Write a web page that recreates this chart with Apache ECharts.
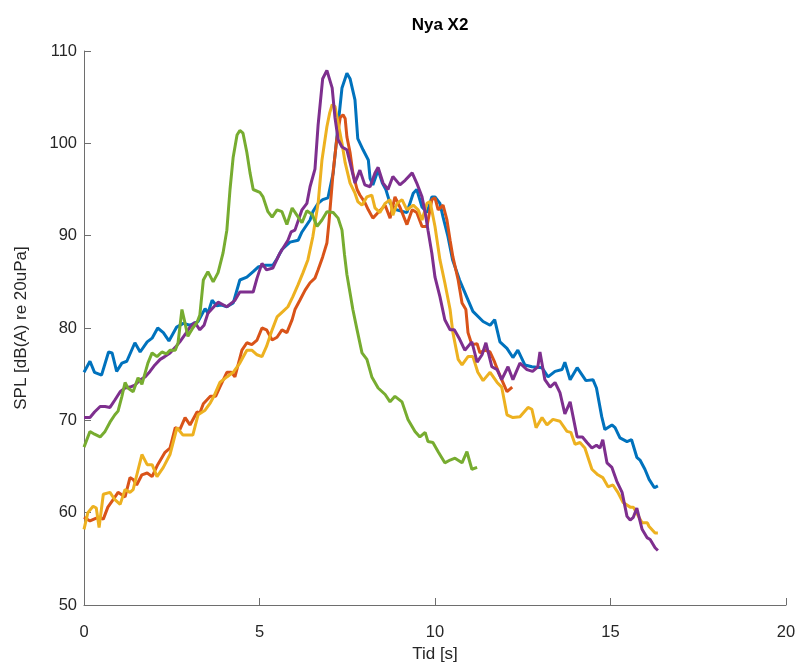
<!DOCTYPE html>
<html>
<head>
<meta charset="utf-8">
<script src="https://cdn.jsdelivr.net/npm/echarts@6/dist/echarts.min.js"></script>
<style>html,body{margin:0;padding:0;background:#fff}#c{width:800px;height:664px}</style>
</head>
<body>
<div id="c"></div>
<script>
const titleText = 'Nya X2';
const xLabel = 'Tid [s]';
const yLabel = 'SPL [dB(A) re 20uPa]';
const xTicks = [0, 5, 10, 15, 20];
const yTicks = [50, 60, 70, 80, 90, 100, 110];

const blue = [[0,75.2],[0.17,76.4],[0.3,75.2],[0.5,74.9],[0.7,77.4],[0.8,77.3],[0.93,75.3],[1.08,76.2],[1.22,76.4],[1.45,78.4],[1.6,77.4],[1.8,78.5],[1.94,78.9],[2.1,80],[2.26,79.5],[2.42,78.6],[2.64,80.1],[2.83,80.5],[3.02,80.3],[3.25,80.7],[3.45,82.1],[3.53,81.6],[3.65,83],[3.78,82.4],[3.9,82.5],[4.07,82.3],[4.25,82.7],[4.44,85.2],[4.64,85.5],[4.82,86.1],[4.96,86.6],[5.16,86.8],[5.38,86.8],[5.5,87.5],[5.64,88.5],[5.87,89.3],[6.1,89.5],[6.21,90.4],[6.44,91.7],[6.52,92.6],[6.67,93.5],[6.8,93.9],[6.95,94.1],[7.1,96.8],[7.24,102],[7.35,106],[7.49,107.6],[7.58,107],[7.72,104.7],[7.8,100.5],[7.95,99.3],[8.1,98.2],[8.15,96.2],[8.23,95.5],[8.38,97.1],[8.5,95.7],[8.6,95],[8.72,93.5],[8.9,92.8],[9.2,92.5],[9.38,94.6],[9.48,95],[9.63,93.1],[9.77,92.5],[9.91,94.2],[10.0,94.2],[10.14,93.5],[10.23,92],[10.37,89.9],[10.5,87.4],[10.7,85.2],[10.9,83.4],[11.08,81.8],[11.37,80.7],[11.57,80.3],[11.7,80.9],[11.85,78.5],[12.05,77.8],[12.22,76.8],[12.36,77.6],[12.56,76],[12.76,75.8],[13.05,75.7],[13.22,74.7],[13.42,75.3],[13.62,75.5],[13.7,76.3],[13.85,74.4],[14.05,75.7],[14.3,74.3],[14.5,74.4],[14.6,73.5],[14.75,70.4],[14.84,69],[15.04,69.5],[15.13,69.2],[15.27,68.1],[15.47,67.7],[15.6,67.9],[15.75,66],[15.84,65.7],[15.98,64.7],[16.1,63.6],[16.25,62.7],[16.35,62.9]];

const red = [[0,59.5],[0.17,59.1],[0.4,59.5],[0.55,59.3],[0.68,60.6],[0.83,61.4],[0.97,62.2],[1.17,61.7],[1.31,63.8],[1.4,63.6],[1.5,63],[1.65,64.1],[1.8,64.3],[1.94,63.9],[2.1,65.2],[2.3,66.5],[2.45,67],[2.6,69.2],[2.73,69],[2.88,70.3],[3.02,69.5],[3.22,70.9],[3.3,70.8],[3.4,71.8],[3.6,72.6],[3.75,72.6],[3.87,73.6],[4.07,75.2],[4.2,75.2],[4.3,74.7],[4.5,77.6],[4.64,78.4],[4.78,78.2],[4.93,78.7],[5.07,80],[5.2,79.8],[5.36,78.7],[5.5,79],[5.64,79.8],[5.78,79.5],[5.93,80.9],[6.01,82],[6.15,83],[6.3,84.1],[6.44,84.9],[6.58,85.4],[6.67,86.3],[6.8,87.7],[6.92,89.2],[6.98,91.5],[7.1,97],[7.2,100.4],[7.3,102.8],[7.38,103.1],[7.44,102.7],[7.49,100.7],[7.58,99],[7.66,96.8],[7.78,95],[7.86,94.4],[8.0,93.6],[8.1,92.8],[8.23,91.9],[8.38,92.5],[8.58,93.3],[8.72,91.9],[8.86,94.2],[9.0,93.1],[9.2,91.2],[9.35,92.8],[9.48,92.5],[9.63,91],[9.77,91],[9.91,93.9],[10.0,94.1],[10.09,92.8],[10.23,93.3],[10.34,91.7],[10.43,89.5],[10.51,87.7],[10.66,85.2],[10.77,82.7],[10.88,82],[10.94,79.5],[11.05,78.2],[11.2,78.3],[11.28,77.3],[11.42,77.6],[11.57,77.4],[11.7,76.3],[11.8,75.3],[11.9,74.4],[12.05,73.1],[12.2,73.6]];

const yellow = [[0,58.2],[0.11,60],[0.26,60.7],[0.35,60.5],[0.43,58.4],[0.55,62],[0.74,62.2],[0.88,61.4],[1.03,60.9],[1.17,62.5],[1.31,62.2],[1.4,62.5],[1.65,66.3],[1.8,65.2],[1.94,65.2],[2.08,63.9],[2.26,64.9],[2.45,66.3],[2.65,69.2],[2.82,68.4],[3.1,68.4],[3.25,70.6],[3.45,71.1],[3.6,71.9],[3.7,72.6],[3.87,74.1],[4.07,74.7],[4.25,75.2],[4.44,76.2],[4.64,77.6],[4.78,77.6],[4.93,77.1],[5.07,76.9],[5.2,78],[5.36,79.8],[5.5,81.2],[5.67,81.8],[5.81,82.3],[5.95,83.4],[6.1,84.7],[6.24,86],[6.38,87.4],[6.52,89.9],[6.67,93.5],[6.78,98.2],[6.92,101.8],[7.0,103.3],[7.07,104.2],[7.15,104],[7.24,102.2],[7.35,100],[7.44,97.9],[7.58,95.7],[7.72,94.6],[7.8,93.7],[7.92,93.3],[8.06,94.2],[8.2,94.4],[8.29,93],[8.43,92.5],[8.58,93.5],[8.72,93.9],[8.8,92.2],[8.92,93.5],[9.06,93.9],[9.2,92.8],[9.38,93.3],[9.52,92.8],[9.63,91.7],[9.77,93.5],[9.86,93.7],[10.0,91],[10.14,87.4],[10.28,84.9],[10.43,82],[10.51,79.5],[10.66,76.6],[10.77,76],[10.94,76.9],[11.08,76.9],[11.22,75.2],[11.37,74.3],[11.57,75.2],[11.77,74.1],[11.9,73.6],[12.05,70.6],[12.22,70.3],[12.42,70.4],[12.65,71.4],[12.76,71.2],[12.88,69.2],[13.05,70.3],[13.19,69.5],[13.36,70.1],[13.56,69.9],[13.76,68.8],[13.87,68.7],[13.99,67.4],[14.13,67.6],[14.27,67],[14.47,64.7],[14.64,64.1],[14.78,63.8],[14.93,62.8],[15.07,63],[15.21,62.2],[15.36,61.1],[15.56,60.6],[15.65,60.6],[15.9,58.9],[16.05,58.9],[16.1,58.5],[16.27,57.8],[16.35,57.8]];

const purple = [[0,70.3],[0.17,70.3],[0.3,70.9],[0.46,71.5],[0.6,71.5],[0.74,71.4],[0.88,72.2],[1.03,73.1],[1.17,73.5],[1.31,73.6],[1.45,73.8],[1.6,74.4],[1.74,74.7],[1.88,75.3],[2.02,76],[2.17,76.6],[2.3,76.9],[2.45,77.3],[2.6,77.9],[2.73,78.5],[2.88,79.3],[3.02,80.1],[3.16,80.6],[3.3,79.8],[3.42,80.3],[3.53,81.6],[3.82,82.8],[4.07,82.3],[4.3,83],[4.44,83.9],[4.67,83.9],[4.82,83.9],[4.93,85.4],[5.07,87],[5.2,86.3],[5.38,86.5],[5.58,88.1],[5.81,89.5],[5.9,90.4],[6.01,90.6],[6.21,92.8],[6.35,93.5],[6.44,95.3],[6.58,97.2],[6.67,102],[6.8,107],[6.92,107.9],[7.07,106],[7.15,102.8],[7.24,100.4],[7.35,99.6],[7.49,99.3],[7.58,97.9],[7.72,95.7],[7.86,97.1],[8.0,95.5],[8.15,95.3],[8.29,96.8],[8.38,97.4],[8.52,95.7],[8.66,95],[8.8,96.4],[9.0,95.5],[9.15,96],[9.35,96.8],[9.48,95.7],[9.63,94.2],[9.72,92.5],[9.8,90.6],[9.91,88.1],[10.0,85.5],[10.14,83.4],[10.28,80.9],[10.43,79.8],[10.55,79.8],[10.7,78.8],[10.85,77.6],[11.05,78.5],[11.2,76.3],[11.34,77.1],[11.45,78.4],[11.62,75.8],[11.77,75.5],[11.9,74.4],[12.08,75.8],[12.22,74.4],[12.42,76.2],[12.62,75.5],[12.78,75.3],[12.93,75.8],[12.99,77.4],[13.13,74.4],[13.28,73.6],[13.42,74.1],[13.56,73],[13.7,70.7],[13.85,72],[14.05,68.2],[14.2,68.2],[14.33,67.6],[14.47,67],[14.6,67.3],[14.7,67],[14.78,67.9],[14.9,65.4],[15.04,64.9],[15.18,63.4],[15.33,62.2],[15.47,59.6],[15.56,59.2],[15.65,59.5],[15.75,60.5],[15.9,58.2],[16.04,57.3],[16.13,57.1],[16.27,56.2],[16.35,55.9]];

const green = [[0,67.1],[0.17,68.8],[0.3,68.5],[0.46,68.2],[0.6,68.8],[0.74,69.8],[0.88,70.6],[0.97,71],[1.08,72.6],[1.17,74.1],[1.25,73.5],[1.4,73.1],[1.54,74.6],[1.65,73.9],[1.82,76.2],[1.94,77.3],[2.08,76.9],[2.22,77.4],[2.35,77.2],[2.45,77.6],[2.6,77.6],[2.68,78.4],[2.79,82],[2.88,80.5],[2.96,79.1],[3.1,80],[3.22,80.6],[3.3,81.4],[3.4,85.2],[3.53,86.1],[3.68,85],[3.82,86],[3.96,88.1],[4.07,90.6],[4.16,95],[4.25,98.5],[4.36,100.9],[4.44,101.4],[4.53,101.1],[4.64,99],[4.73,96.8],[4.82,95],[5.01,94.7],[5.1,94.2],[5.24,92.6],[5.36,92],[5.5,92.8],[5.64,92.6],[5.78,91.2],[5.93,93],[6.07,92.2],[6.21,91.4],[6.35,92.7],[6.5,92.3],[6.64,91],[6.78,91.7],[6.92,92.6],[7.1,92.5],[7.24,91.9],[7.35,90.6],[7.42,88],[7.49,85.8],[7.58,83.8],[7.66,82],[7.78,79.8],[7.92,77.3],[8.06,76.6],[8.2,74.7],[8.38,73.5],[8.58,72.8],[8.72,72],[8.86,72.6],[9.06,72],[9.23,70.1],[9.43,68.8],[9.57,68.2],[9.72,68.7],[9.8,67.7],[9.94,67.6],[10.09,66.6],[10.28,65.4],[10.43,65.7],[10.57,65.9],[10.77,65.4],[10.91,66.6],[11.05,64.7],[11.2,64.9]];

const seriesList = [
  {name: 'S1', data: blue, color: '#0072BD'},
  {name: 'S2', data: red, color: '#D95319'},
  {name: 'S3', data: yellow, color: '#EDB120'},
  {name: 'S4', data: purple, color: '#7E2F8E'},
  {name: 'S5', data: green, color: '#77AC30'}
];

const chart = echarts.init(document.getElementById('c'), null, {renderer: 'canvas'});
const axisCol = '#262626';
const lineCol = '#6e6e6e';
const font = 'Liberation Sans, Arial, Helvetica, sans-serif';
chart.setOption({
  animation: false,
  backgroundColor: '#ffffff',
  title: {
    text: titleText, left: 435, top: 12, textAlign: 'center',
    textStyle: {fontFamily: font, fontSize: 17, fontWeight: 'bold', color: '#000'}
  },
  grid: {left: 84, right: 14, top: 51, bottom: 59, containLabel: false, outerBoundsMode: 'none'},
  xAxis: {
    type: 'value', min: xTicks[0], max: xTicks[xTicks.length - 1], interval: 5,
    name: xLabel, nameLocation: 'middle', nameGap: 39,
    nameTextStyle: {fontFamily: font, fontSize: 17, color: axisCol},
    axisLine: {show: true, lineStyle: {color: lineCol, width: 1}},
    axisTick: {show: true, inside: true, length: 7, lineStyle: {color: lineCol}},
    axisLabel: {fontFamily: font, fontSize: 16.5, color: axisCol, margin: 19},
    splitLine: {show: false}
  },
  yAxis: {
    type: 'value', min: yTicks[0], max: yTicks[yTicks.length - 1], interval: 10,
    name: yLabel, nameLocation: 'middle', nameGap: 54,
    nameTextStyle: {fontFamily: font, fontSize: 17, color: axisCol},
    axisLine: {show: true, lineStyle: {color: lineCol, width: 1}},
    axisTick: {show: true, inside: true, length: 7, lineStyle: {color: lineCol}},
    axisLabel: {fontFamily: font, fontSize: 16.5, color: axisCol, margin: 7},
    splitLine: {show: false}
  },
  series: seriesList.map(s => ({
    name: s.name, type: 'line', data: s.data, showSymbol: false, symbol: 'none',
    lineStyle: {color: s.color, width: 3}, itemStyle: {color: s.color},
    smooth: false, clip: true
  }))
});
</script>
</body>
</html>
